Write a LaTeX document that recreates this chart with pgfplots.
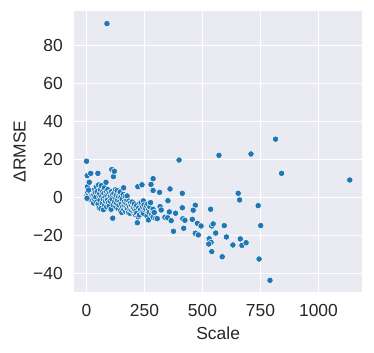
\documentclass[border=0pt]{standalone}
\usepackage{fontspec}
\setmainfont{Liberation Sans}
\usepackage{pgfplots}
\pgfplotsset{compat=1.18}
\definecolor{sbblue}{HTML}{1F77B4}
\definecolor{sbbg}{HTML}{EAEAF2}
\definecolor{sbtext}{HTML}{262626}
\newcommand{\lblfont}{\fontsize{17.5}{17.5}\selectfont}

\begin{document}
\begin{tikzpicture}
\begin{axis}[
    at={(0,0)}, anchor=south west,
    scale only axis,
    width=288.3bp, height=281.6bp,
    xmin=-54, xmax=1189,
    ymin=-50, ymax=98.2,
    xtick={0,250,500,750,1000},
    ytick={-40,-20,0,20,40,60,80},
    yticklabels={−40,−20,0,20,40,60,80},
    /pgf/number format/assume math mode=true,
    /pgf/number format/set thousands separator={},
    axis background/.style={fill=sbbg},
    axis line style={draw=none},
    major tick length=0pt,
    grid=major,
    grid style={white, line width=1.2bp},
    tick label style={font=\lblfont, text=sbtext},
    xticklabel style={inner sep=0pt, anchor=north, yshift=-12bp},
    yticklabel style={inner sep=0pt, anchor=east, xshift=-11bp},
    xlabel={Scale},
    ylabel={ΔRMSE},
    label style={font=\lblfont, text=sbtext},
    xlabel style={at={(axis description cs:0.5,-0.123)}, anchor=north, inner sep=0pt},
    ylabel style={at={(axis description cs:-0.1665,0.5)}, anchor=south, rotate=0, inner sep=0pt},
]
\addplot[only marks, mark=*, mark size=3.2bp,
    mark options={fill=sbblue, draw=white, line width=0.5bp}] table {
x y
0 19
2 1
3 11.4
4 5.6
5 2.5
6 0
8 -0.5
10 1.5
12 7.9
14 3
15 -1
18 12.6
20 2
22 0.5
24 -2
26 3.5
28 1
30 -3
2 -0.5
9 3.8
32 1.5
34 4
36 -1
38 2.5
40 0
42 5.5
44 -2.5
46 3
49 12.6
50 -3.5
52 6.5
54 1
55 -5.6
57 2
58 -1.5
60 4
62 -6
64 6.1
66 0.5
68 -3
70 3
72 -1
73 -6.5
75 2
77 5
78 -4
80 0
82 -2
84 7.9
85 3
87 -5
88 1
90 -1.5
92 4
94 -3
96 1.5
98 -4.5
100 2.5
102 -2
104 0.5
106 -6.3
108 3
109 14.6
110 -1
112 1.5
113 -11
115 -4
116 10.9
118 2
120 13.7
121 -2.5
123 0
125 4
127 -5
128 1
130 -3
132 3.5
134 -1.5
136 -6
138 0.5
140 -4
142 2
144 -2
145 2.8
147 -7
148 0
150 -3.5
152 -8
154 -1
156 -5
158 1.5
160 5
161 -6.5
163 -2.5
165 -4.5
167 0.5
169 -7.5
170 -3
172 -5.5
174 -1.5
175 0.7
177 -6
179 -4
181 -8
183 -2
185 -5
187 -8.4
189 -3
191 -6.5
193 -4.5
195 -7
197 -2.5
199 -5.5
202 -5.8
204 -8
206 -3.5
208 -6.5
210 -9
213 -7
216 -4.4
216 -8.4
219 -13.4
221 5.6
223 -10.2
225 -5.5
228 -9.3
230 -3
233 -6.5
236 -2.8
239 6.6
240 -8
242 -5
245 -1.9
245 -8.4
248 -4
252 -6.5
255 -5.8
259 -4.4
261 -9.8
264 -3.5
267 -11.9
267 -6.7
270 -8
273 -5
276 -2.8
278 6.8
281 -9
284 -7
287 9.8
287 3.6
287 -6.3
287 -10.5
292 -8
298 -11
305 -11.2
315 2.6
317 -4.9
322 -6.7
338 -10.5
350 -10.8
88 91.4
399 19.6
571 22.1
709 22.8
815 30.6
841 12.6
1135 9.1
351 -1.8
360 4.4
357 -7.7
365 -12.3
375 -17.9
384 -8.4
413 2.1
413 -5.5
415 -11.3
424 -12.1
419 -16.3
469 -4.2
460 -6.8
456 -11.6
478 -13.7
494 -15.1
469 -18.9
482 -19.8
535 -6.3
540 -15.1
546 -14
557 -18.8
529 -21.8
537 -23.7
527 -24.6
540 -28.6
585 -31.3
594 -14.9
603 -20.9
631 -25.1
654 2.1
660 -1.4
663 -21.9
670 -25.3
688 -23.9
740 -4.4
751 -14.9
744 -32.5
791 -43.7
};
\end{axis}
\pgfresetboundingbox
\path[use as bounding box] (-74bp,-60.7bp) rectangle (300bp,292.3bp);
\end{tikzpicture}
\end{document}
